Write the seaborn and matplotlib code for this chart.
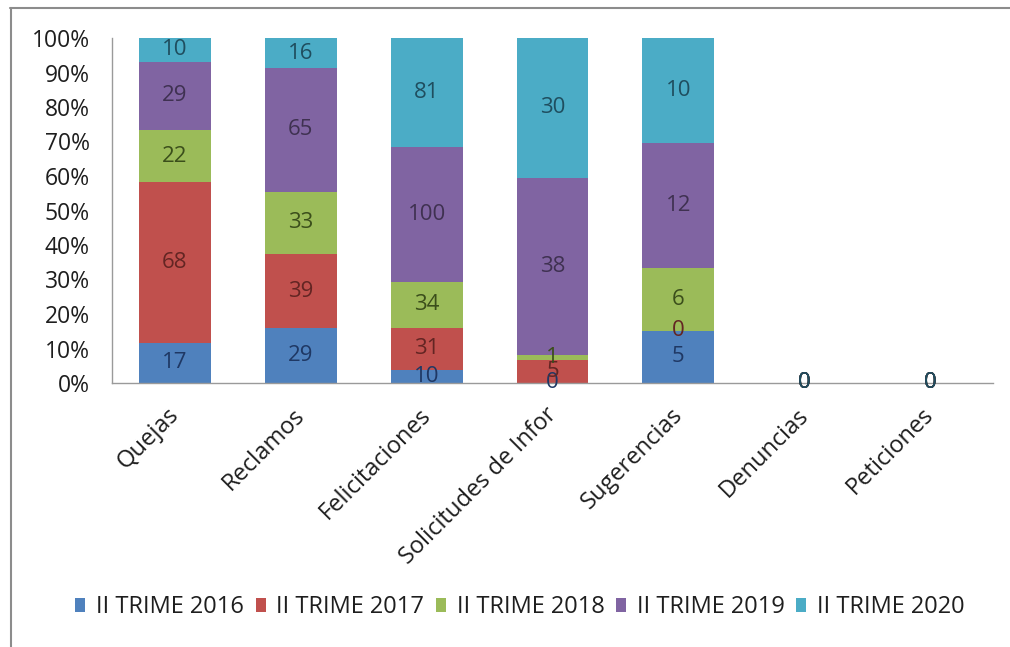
import numpy as np
import pandas as pd
import seaborn as sns
import matplotlib
matplotlib.use("Agg")
import matplotlib.pyplot as plt
from matplotlib.patches import Patch
from matplotlib.lines import Line2D
from matplotlib.transforms import ScaledTranslation

# Categories of requests and the quarter series
categories = ["Quejas", "Reclamos", "Felicitaciones", "Solicitudes de Infor",
              "Sugerencias", "Denuncias", "Peticiones"]
series_names = ["II TRIME 2016", "II TRIME 2017", "II TRIME 2018",
                "II TRIME 2019", "II TRIME 2020"]

trime_2016 = [17, 29, 10, 0, 5, 0, 0]
trime_2017 = [68, 39, 31, 5, 0, 0, 0]
trime_2018 = [22, 33, 34, 1, 6, 0, 0]
trime_2019 = [29, 65, 100, 38, 12, 0, 0]
trime_2020 = [10, 16, 81, 30, 10, 0, 0]

colors = ["#4F81BD", "#C0504D", "#9BBB59", "#8064A2", "#4BACC6"]
label_colors = ["#1F3864", "#632523", "#3B4E1B", "#3F3151", "#1F4E5F"]
text_color = "#1e1e1e"

sns.set_theme(style="white")
plt.rcParams["font.family"] = ["Open Sans", "DejaVu Sans"]

values = np.array([trime_2016, trime_2017, trime_2018, trime_2019, trime_2020], dtype=float)
totals = values.sum(axis=0)
safe = np.where(totals == 0, 1, totals)
pct = values / safe * 100
cum = np.cumsum(pct, axis=0)
bottoms = cum - pct

fig = plt.figure(figsize=(10.1, 6.47), dpi=100)
ax = fig.add_axes([112 / 1010, 1 - 383 / 647, (993 - 112) / 1010, (383 - 38) / 647])

# Stacked 100% bars: draw cumulative heights from the top layer down
for i in range(len(series_names) - 1, -1, -1):
    df = pd.DataFrame({"cat": categories, "val": cum[i]})
    df.loc[totals == 0, "val"] = 0
    sns.barplot(data=df, x="cat", y="val", color=colors[i], saturation=1,
                width=0.57, ax=ax, linewidth=0, order=categories)

# Value labels in the middle of each segment
for i in range(len(series_names)):
    for j, cat in enumerate(categories):
        yc = bottoms[i, j] + pct[i, j] / 2
        ax.text(j, yc, f"{int(values[i, j])}", ha="center", va="center",
                fontsize=16, color=label_colors[i])

ax.set_xlim(-0.5, 6.5)
ax.set_ylim(0, 100)
ax.set_yticks(np.arange(0, 101, 10))
ax.set_yticklabels([f"{t}%" for t in range(0, 101, 10)], fontsize=16.5, color=text_color)
ax.set_xlabel("")
ax.set_ylabel("")
ax.tick_params(axis="y", length=0, pad=16)
ax.tick_params(axis="x", length=0, pad=8)
ax.set_xticks(range(len(categories)))
ax.set_xticklabels(categories, rotation=45, ha="right", rotation_mode="anchor",
                   fontsize=17, color=text_color)
shift = ScaledTranslation(-8 / 100, -9 / 100, fig.dpi_scale_trans)
for lab in ax.get_xticklabels():
    lab.set_transform(lab.get_transform() + shift)

for s in ["top", "right"]:
    ax.spines[s].set_visible(False)
for s in ["left", "bottom"]:
    ax.spines[s].set_color("#9a9a9a")
    ax.spines[s].set_linewidth(1.0)
ax.grid(False)

handles = [Patch(facecolor=c, edgecolor="none") for c in colors]
fig.legend(handles, series_names, loc="center", bbox_to_anchor=(520 / 1010, 1 - 607 / 647),
           ncol=5, frameon=False, fontsize=17, handlelength=0.42, handleheight=0.55,
           handletextpad=0.45, columnspacing=0.5, labelcolor=text_color)

# Chart-area frame (top and left edges)
fig.add_artist(Line2D([10 / 1010, 1.0], [1 - 8 / 647, 1 - 8 / 647], color="#8c8c8c", lw=1.5,
                      transform=fig.transFigure))
fig.add_artist(Line2D([11 / 1010, 11 / 1010], [0, 1 - 8 / 647], color="#8c8c8c", lw=1.5,
                      transform=fig.transFigure))

fig.savefig("out.png", dpi=100)
